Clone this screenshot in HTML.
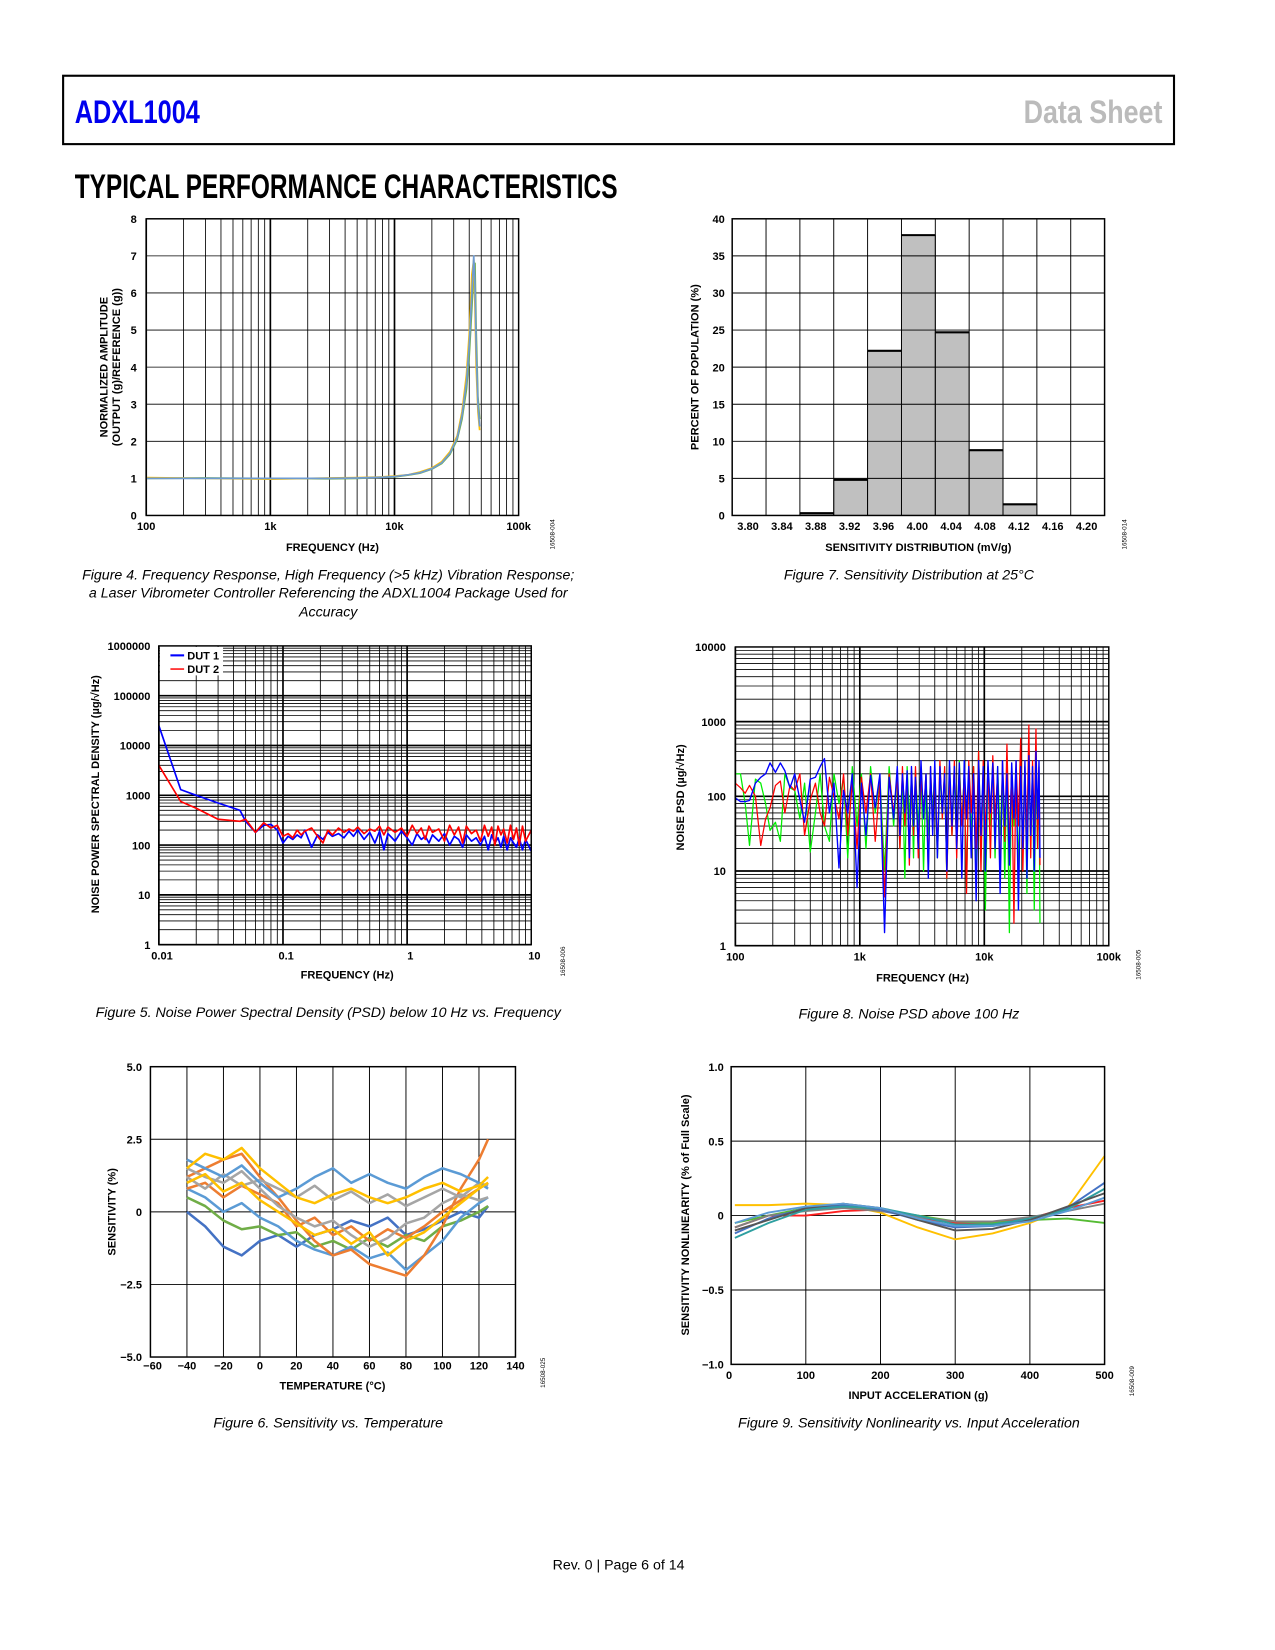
<!DOCTYPE html>
<html><head><meta charset="utf-8">
<style>
html,body{margin:0;padding:0;background:#fff;}
svg{display:block;}
.t{font-family:"Liberation Sans",Arial,sans-serif;font-weight:bold;font-size:10.5px;fill:#000;}
.cap{font-family:"Liberation Sans",Arial,sans-serif;font-style:italic;font-size:13.5px;fill:#000;}
.fid{font-family:"Liberation Sans",Arial,sans-serif;font-size:6px;fill:#000;}
</style></head>
<body>
<svg id="page" xmlns="http://www.w3.org/2000/svg" width="1275" height="1650" viewBox="0 0 1212 1568.5" preserveAspectRatio="none">
<rect x="60" y="72" width="1056" height="65" fill="none" stroke="#000" stroke-width="2"/>
<text x="71" y="117" textLength="119" lengthAdjust="spacingAndGlyphs" style="font-family:'Liberation Sans',sans-serif;font-weight:bold;font-size:31px;fill:#0000ee">ADXL1004</text>
<text x="973" y="117" textLength="132" lengthAdjust="spacingAndGlyphs" style="font-family:'Liberation Sans',sans-serif;font-weight:bold;font-size:31px;fill:#bbbbbb">Data Sheet</text>
<text x="71" y="188" textLength="516" lengthAdjust="spacingAndGlyphs" style="font-family:'Liberation Sans',sans-serif;font-weight:bold;font-size:33px;fill:#000">TYPICAL PERFORMANCE CHARACTERISTICS</text>

<text class="cap" x="312" y="551" text-anchor="middle">Figure 4. Frequency Response, High Frequency (&gt;5 kHz) Vibration Response;</text>
<text class="cap" x="312" y="568" text-anchor="middle">a Laser Vibrometer Controller Referencing the ADXL1004 Package Used for</text>
<text class="cap" x="312" y="586" text-anchor="middle">Accuracy</text>
<text class="cap" x="864" y="551" text-anchor="middle">Figure 7. Sensitivity Distribution at 25°C</text>
<text class="cap" x="312" y="967" text-anchor="middle">Figure 5. Noise Power Spectral Density (PSD) below 10 Hz vs. Frequency</text>
<text class="cap" x="864" y="968" text-anchor="middle">Figure 8. Noise PSD above 100 Hz</text>
<text class="cap" x="312" y="1357" text-anchor="middle">Figure 6. Sensitivity vs. Temperature</text>
<text class="cap" x="864" y="1357" text-anchor="middle">Figure 9. Sensitivity Nonlinearity vs. Input Acceleration</text>
<text x="588" y="1492" text-anchor="middle" style="font-family:'Liberation Sans',sans-serif;font-size:13.5px;fill:#000">Rev. 0 | Page 6 of 14</text>

<!-- axis titles -->
<text class="t" x="316" y="524" text-anchor="middle">FREQUENCY (Hz)</text>
<text class="t" transform="translate(102,349) rotate(-90)" text-anchor="middle">NORMALIZED AMPLITUDE</text>
<text class="t" transform="translate(114,349) rotate(-90)" text-anchor="middle">(OUTPUT (g)/REFERENCE (g))</text>
<text class="t" x="873" y="524" text-anchor="middle">SENSITIVITY DISTRIBUTION (mV/g)</text>
<text class="t" transform="translate(664,349) rotate(-90)" text-anchor="middle">PERCENT OF POPULATION (%)</text>
<text class="t" x="330" y="930" text-anchor="middle">FREQUENCY (Hz)</text>
<text class="t" transform="translate(94,755) rotate(-90)" text-anchor="middle">NOISE POWER SPECTRAL DENSITY (µg/√Hz)</text>
<text class="t" x="877" y="933" text-anchor="middle">FREQUENCY (Hz)</text>
<text class="t" transform="translate(650,758) rotate(-90)" text-anchor="middle">NOISE PSD (µg/√Hz)</text>
<text class="t" x="316" y="1321" text-anchor="middle">TEMPERATURE (°C)</text>
<text class="t" transform="translate(110,1152) rotate(-90)" text-anchor="middle">SENSITIVITY (%)</text>
<text class="t" x="873" y="1330" text-anchor="middle">INPUT ACCELERATION (g)</text>
<text class="t" transform="translate(655,1155) rotate(-90)" text-anchor="middle">SENSITIVITY NONLINEARITY (% of Full Scale)</text>

<text class="fid" transform="translate(527,508) rotate(-90)" text-anchor="middle">16508-004</text>
<text class="fid" transform="translate(1071,508) rotate(-90)" text-anchor="middle">16508-014</text>
<text class="fid" transform="translate(537,914) rotate(-90)" text-anchor="middle">16508-006</text>
<text class="fid" transform="translate(1084,917) rotate(-90)" text-anchor="middle">16508-005</text>
<text class="fid" transform="translate(518,1305) rotate(-90)" text-anchor="middle">16508-025</text>
<text class="fid" transform="translate(1078,1313) rotate(-90)" text-anchor="middle">16508-009</text>
</svg>
<script>
// ---------- Figure 4 data ----------
const f4Freq = [100,300,1000,3000,5000,8000,10000,13000,16000,20000,24000,28000,32000,35000,38000,40000,42000,43500,44500,45500,47000,48500];
const f4DutA = [1.0,1.0,1.0,1.0,1.01,1.03,1.05,1.1,1.15,1.26,1.42,1.68,2.1,2.7,3.6,4.6,6.0,7.0,6.2,4.5,3.0,2.4];
const f4DutB = [1.02,1.0,0.98,1.01,1.02,1.04,1.06,1.1,1.17,1.28,1.45,1.72,2.15,2.8,3.8,4.9,6.5,6.9,5.6,4.0,2.8,2.3];
const f4DutC = [1.0,1.01,1.0,0.99,1.0,1.03,1.04,1.09,1.14,1.25,1.4,1.65,2.05,2.6,3.4,4.3,5.6,6.6,6.8,5.0,3.2,2.6];
const f4XTicks = ['100','1k','10k','100k'];
const f4YTicks = [0,1,2,3,4,5,6,7,8];
// ---------- Figure 7 data ----------
const f7Cats = ['3.80','3.84','3.88','3.92','3.96','4.00','4.04','4.08','4.12','4.16','4.20'];
const f7Pct = [0,0,0.3,4.8,22.2,37.8,24.7,8.8,1.5,0,0];
const f7YTicks = [0,5,10,15,20,25,30,35,40];
// ---------- Figure 5 data ----------
const f5Freq = [0.01,0.015,0.02,0.03,0.045,0.05,0.06,0.07,0.08,0.09,0.1,0.11,0.12,0.13,0.14,0.15,0.17,0.19,0.21,0.23,0.25,0.28,0.31,0.34,0.37,0.4,0.45,0.5,0.55,0.6,0.65,0.7,0.8,0.9,1.0,1.1,1.2,1.3,1.4,1.5,1.6,1.8,2.0,2.2,2.4,2.6,2.8,3.0,3.3,3.6,3.9,4.2,4.5,4.8,5.1,5.4,5.7,6.0,6.4,6.8,7.2,7.6,8.0,8.5,9.0,10];
const f5Dut1 = [25000,1300,1000,700,500,300,180,250,260,200,110,150,130,160,140,200,90,160,130,180,150,170,140,190,150,200,130,180,110,190,80,170,120,190,140,100,170,130,150,110,160,120,170,100,150,130,90,160,120,140,100,150,80,160,110,140,90,150,80,140,110,90,140,80,130,75];
const f5Dut2 = [4000,750,550,330,300,330,180,280,220,250,150,170,140,200,160,190,220,150,110,200,160,220,180,210,190,230,170,210,190,240,160,230,180,220,150,250,170,220,130,240,180,210,120,250,160,230,110,240,170,200,120,250,150,230,100,240,160,210,110,250,130,220,100,240,120,200];
const f5XTicks = ['0.01','0.1','1','10'];
const f5YTicks = ['1','10','100','1000','10000','100000','1000000'];
// ---------- Figure 8 data ----------
const f8Freq = [100,110,120,130,145,160,175,190,210,230,250,275,300,330,360,400,440,480,520,570,620,680,740,800,870,950,1030,1120,1220,1330,1450,1580,1720,1870,2000,2100,2200,2300,2400,2500,2600,2700,2800,2950,3100,3250,3400,3550,3700,3850,4000,4200,4400,4600,4800,5000,5250,5500,5750,6000,6300,6600,6900,7200,7500,7850,8200,8600,9000,9400,9800,10200,10700,11200,11700,12200,12800,13400,14000,14600,15200,15900,16600,17300,18000,18800,19600,20400,21200,22000,22800,23600,24400,25200,26000,26800,27500,28000];
const f8Blue = [95,85,85,88,150,180,200,280,210,280,220,130,200,90,45,170,180,250,320,60,150,11,120,60,200,6,150,30,190,70,200,1.5,180,50,250,30,200,60,220,15,250,40,180,20,300,50,200,8,250,30,300,15,250,60,200,10,300,40,250,20,280,8,300,50,250,15,200,4,300,30,250,10,300,60,280,20,250,5,300,40,200,12,280,50,300,3,250,20,300,8,350,30,250,10,400,50,300,15];
const f8Red = [150,130,110,140,100,22,50,70,140,160,60,140,120,200,30,90,150,60,40,180,100,50,200,30,150,20,180,60,200,25,150,4.5,200,60,180,20,250,40,200,12,220,30,250,15,180,60,200,10,250,40,180,20,300,50,250,8,200,30,300,15,250,40,200,5,300,60,250,20,400,10,300,30,250,15,350,50,200,8,300,25,500,20,250,2,300,40,600,10,250,30,900,15,300,40,800,20,250,12];
const f8Green = [200,200,80,22,170,150,80,35,45,25,200,130,120,50,150,18,60,200,40,25,200,80,180,15,250,40,200,20,250,60,180,10,250,40,200,20,200,8,250,50,180,15,220,40,250,10,200,30,180,60,250,15,200,50,220,8,250,30,200,20,300,40,200,6,250,30,250,10,400,20,200,3,250,40,300,15,250,30,200,8,300,1.5,250,40,200,10,300,20,250,5,300,30,200,3,250,20,200,2];
const f8XTicks = ['100','1k','10k','100k'];
const f8YTicks = ['1','10','100','1000','10000'];
// ---------- Figure 6 data ----------
const f6Temp = [-40,-30,-20,-10,0,10,20,30,40,50,60,70,80,90,100,110,120,125];
const f6S1 = [0,-0.5,-1.2,-1.5,-1.0,-0.8,-1.2,-0.8,-0.6,-0.3,-0.5,-0.2,-0.8,-0.6,-0.3,0,-0.2,0.2];
const f6S2 = [1.2,1.5,1.8,2.0,1.2,0.5,-0.3,-1.0,-1.5,-1.3,-1.8,-2.0,-2.2,-1.5,-0.5,0.8,1.8,2.5];
const f6S3 = [0.8,1.0,0.5,0.9,0.6,0.3,-0.5,-0.2,-0.8,-0.5,-1.0,-0.6,-0.9,-0.5,0.0,0.4,0.8,1.0];
const f6S4 = [1.5,1.2,1.0,1.4,0.8,0.2,-0.2,-0.5,-0.3,-0.8,-1.2,-0.9,-0.4,-0.2,0.3,0.6,0.4,0.5];
const f6S5 = [1.5,2.0,1.8,2.2,1.5,1.0,0.5,0.3,0.6,0.8,0.5,0.3,0.5,0.8,1.0,0.7,0.9,1.2];
const f6S6 = [1.8,1.5,1.2,1.6,1.0,0.5,0.8,1.2,1.5,1.0,1.3,1.0,0.8,1.2,1.5,1.3,1.0,0.8];
const f6S7 = [0.5,0.2,-0.3,-0.6,-0.5,-0.8,-0.7,-1.2,-1.0,-1.3,-0.9,-1.2,-0.8,-1.0,-0.5,-0.3,0,0.2];
const f6S8 = [1.0,1.3,0.7,1.0,0.4,0.0,-0.4,-0.8,-0.6,-1.1,-0.7,-1.5,-1.0,-0.7,-0.2,0.3,0.8,1.0];
const f6S9 = [0.8,0.5,0.0,0.3,-0.2,-0.5,-1.0,-1.3,-1.5,-1.2,-1.6,-1.4,-2.0,-1.5,-1.0,-0.2,0.3,0.5];
const f6S10 = [1.2,0.8,1.3,0.9,1.1,0.8,0.5,0.9,0.4,0.7,0.3,0.6,0.2,0.5,0.8,0.5,1.0,0.9];
const f6XTicks = [-60,-40,-20,0,20,40,60,80,100,120,140];
const f6YTicks = ['−5.0','−2.5','0','2.5','5.0'];
// ---------- Figure 9 data ----------
const f9Accel = [5,50,100,150,200,250,300,350,400,450,500];
const f9A = [0.07,0.07,0.08,0.07,0.02,-0.08,-0.16,-0.12,-0.05,0.05,0.40];
const f9B = [-0.12,-0.02,0.05,0.07,0.04,-0.03,-0.08,-0.07,-0.03,0.05,0.22];
const f9C = [-0.05,0.0,0.05,0.06,0.04,0.0,-0.04,-0.05,-0.03,-0.02,-0.05];
const f9D = [-0.08,0.0,0.0,0.03,0.04,-0.02,-0.05,-0.05,-0.02,0.05,0.10];
const f9E = [-0.10,-0.03,0.05,0.08,0.05,-0.03,-0.10,-0.09,-0.03,0.06,0.15];
const f9F = [-0.15,-0.05,0.04,0.06,0.05,0.0,-0.06,-0.06,-0.02,0.04,0.18];
const f9G = [-0.05,0.02,0.06,0.08,0.05,-0.02,-0.07,-0.07,-0.04,0.03,0.12];
const f9H = [-0.08,0.0,0.03,0.05,0.03,-0.01,-0.04,-0.04,-0.01,0.03,0.08];
const f9XTicks = [0,100,200,300,400,500];
const f9YTicks = ['−1.0','−0.5','0','0.5','1.0'];

const NS = 'http://www.w3.org/2000/svg';
const svg = document.getElementById('page');
function mk(tag, attrs, parent) {
  const e = document.createElementNS(NS, tag);
  for (const k in attrs) e.setAttribute(k, attrs[k]);
  (parent || svg).appendChild(e);
  return e;
}
function line(x1,y1,x2,y2,w,g){ const l = mk('line',{x1:x1,y1:y1,x2:x2,y2:y2,stroke:'#000','stroke-width':w},g);
  
  
  return l; }
function label(x,y,txt,anchor,g){ const t = mk('text',{x:x,y:y,class:'t','text-anchor':anchor||'middle'},g); t.textContent = txt;
  
  
  return t; }
function pathD(xs, ys, sx, sy){ let d=''; const n=Math.min(xs.length, ys.length); for(let i=0;i<n;i++){ d += (i?'L':'M') + sx(xs[i]).toFixed(2) + ',' + sy(ys[i]).toFixed(2); } return d; }
function series(g, xs, ys, sx, sy, color, w, name){ const p = mk('path',{d:pathD(xs,ys,sx,sy),fill:'none',stroke:color,'stroke-width':w,'stroke-linejoin':'round'},g);
  
  
  return p; }
function logGridX(g, x0, x1, y0, y1, dec){ const pd=(x1-x0)/dec; for(let d=0; d<dec; d++){ for(let m=1;m<10;m++){ const x = x0 + pd*(d+Math.log10(m)); line(x,y0,x,y1, m===1?1.6:0.8, g);} } }
function logGridY(g, x0, x1, y0, y1, dec){ const pd=(y1-y0)/dec; for(let d=0; d<dec; d++){ for(let m=1;m<10;m++){ const y = y1 - pd*(d+Math.log10(m)); line(x0,y,x1,y, m===1?1.6:0.8, g);} } }
function frame(g,x0,y0,x1,y1){ const r = mk('rect',{x:x0,y:y0,width:x1-x0,height:y1-y0,fill:'none',stroke:'#000','stroke-width':1.4},g);
  
   }

// ===== Figure 4 =====
(function(){
  const g = mk('g',{});
  
  
  const X0=139,X1=493,Y0=208,Y1=490;
  const sx = v => X0 + (X1-X0)/3*Math.log10(v/100);
  const sy = v => Y1 - (Y1-Y0)/8*v;
  logGridX(g,X0,X1,Y0,Y1,3);
  f4YTicks.forEach(v=>{ line(X0,sy(v),X1,sy(v),0.8,g); label(X0-9,sy(v)+4,String(v),'end',g); });
  f4XTicks.forEach((t,i)=>label(X0+i*(X1-X0)/3,504,t,'middle',g));
  series(g,f4Freq,f4DutC,sx,sy,'#70ad47',1.6,'fig4-series-dut-c');
  series(g,f4Freq,f4DutB,sx,sy,'#ffc000',1.6,'fig4-series-dut-b');
  series(g,f4Freq,f4DutA,sx,sy,'#6e9bd2',1.6,'fig4-series-dut-a');
  frame(g,X0,Y0,X1,Y1);
})();

// ===== Figure 7 =====
(function(){
  const g = mk('g',{});
  
  
  const X0=696,X1=1050,Y0=208,Y1=490;
  const bw=(X1-X0)/f7Cats.length;
  const sy = v => Y1 - (Y1-Y0)/40*v;
  f7Pct.forEach((v,i)=>{ if(v<=0) return; const x=X0+i*bw;
    const b = mk('rect',{x:x,y:sy(v),width:bw,height:Y1-sy(v),fill:'#c0c0c0',stroke:'#000','stroke-width':0.8},g);
    
    
    line(x,sy(v),x+bw,sy(v),2,g); });
  f7YTicks.forEach(v=>{ line(X0,sy(v),X1,sy(v),0.9,g); label(X0-7,sy(v)+4,String(v),'end',g); });
  f7Cats.forEach((c,i)=>{ line(X0+i*bw,Y0,X0+i*bw,Y1,0.9,g); label(X0+(i+0.5)*bw-1,504,c,'middle',g); });
  frame(g,X0,Y0,X1,Y1);
})();

// ===== Figure 5 =====
(function(){
  const g = mk('g',{});
  
  
  const X0=151,X1=505,Y0=614,Y1=898;
  const sx = v => X0 + (X1-X0)/3*Math.log10(v/0.01);
  const sy = v => Y1 - (Y1-Y0)/6*Math.log10(v);
  logGridX(g,X0,X1,Y0,Y1,3);
  logGridY(g,X0,X1,Y0,Y1,6);
  f5YTicks.forEach((t,i)=>label(X0-8,Y1-i*(Y1-Y0)/6+4,t,'end',g));
  f5XTicks.forEach((t,i)=>label(X0+i*(X1-X0)/3+3,912,t,'middle',g));
  series(g,f5Freq,f5Dut1,sx,sy,'#0000ff',1.6,'fig5-series-dut1');
  series(g,f5Freq,f5Dut2,sx,sy,'#ff0000',1.6,'fig5-series-dut2');
  const lg = mk('g',{},g);
  
  
  mk('rect',{x:152,y:615,width:60,height:27,fill:'#fff'},lg);
  mk('line',{x1:162,y1:623,x2:175,y2:623,stroke:'#0000ff','stroke-width':2},lg);
  mk('line',{x1:162,y1:636,x2:175,y2:636,stroke:'#ff0000','stroke-width':1.4},lg);
  const l1 = label(178,627,'DUT 1','start',lg);
  
  const l2 = label(178,640,'DUT 2','start',lg);
  
  frame(g,X0,Y0,X1,Y1);
})();

// ===== Figure 8 =====
(function(){
  const g = mk('g',{});
  
  
  const X0=699,X1=1054,Y0=615,Y1=899;
  const sx = v => X0 + (X1-X0)/3*Math.log10(v/100);
  const sy = v => Y1 - (Y1-Y0)/4*Math.log10(v);
  logGridX(g,X0,X1,Y0,Y1,3);
  logGridY(g,X0,X1,Y0,Y1,4);
  f8YTicks.forEach((t,i)=>label(X0-9,Y1-i*(Y1-Y0)/4+4,t,'end',g));
  f8XTicks.forEach((t,i)=>label(X0+i*(X1-X0)/3,913,t,'middle',g));
  series(g,f8Freq,f8Green,sx,sy,'#00ee00',1.2,'fig8-series-green');
  series(g,f8Freq,f8Red,sx,sy,'#ff0000',1.2,'fig8-series-red');
  series(g,f8Freq,f8Blue,sx,sy,'#0000ff',1.3,'fig8-series-blue');
  frame(g,X0,Y0,X1,Y1);
})();

// ===== Figure 6 =====
(function(){
  const g = mk('g',{});
  
  
  const X0=143,X1=490,Y0=1014,Y1=1290;
  const sx = v => X0 + (X1-X0)*(v+60)/200;
  const sy = v => Y1 - (Y1-Y0)*(v+5)/10;
  f6XTicks.forEach(v=>{ line(sx(v),Y0,sx(v),Y1,0.9,g); label(sx(v)+(v===-60?2:0),1302,v<0?'−'+Math.abs(v):String(v),'middle',g); });
  f6YTicks.forEach((t,i)=>{ const y=Y1-i*(Y1-Y0)/4; line(X0,y,X1,y,0.9,g); label(X0-8,y+4,t,'end',g); });
  const sets=[[f6S1,'#4472c4'],[f6S7,'#70ad47'],[f6S9,'#5b9bd5'],[f6S2,'#ed7d31'],[f6S3,'#ed7d31'],[f6S4,'#a5a5a5'],[f6S10,'#a5a5a5'],[f6S6,'#5b9bd5'],[f6S8,'#ffc000'],[f6S5,'#ffc000']];
  sets.forEach((s,i)=>series(g,f6Temp,s[0],sx,sy,s[1],2.4,'fig6-series-'+(i+1)));
  frame(g,X0,Y0,X1,Y1);
})();

// ===== Figure 9 =====
(function(){
  const g = mk('g',{});
  
  
  const X0=695,X1=1050,Y0=1014,Y1=1297;
  const sx = v => X0 + (X1-X0)*v/500;
  const sy = v => Y1 - (Y1-Y0)*(v+1)/2;
  f9XTicks.forEach(v=>{ line(sx(v),Y0,sx(v),Y1,0.9,g); label(sx(v)-(v===0?2:0),1311,String(v),'middle',g); });
  f9YTicks.forEach((t,i)=>{ const y=Y1-i*(Y1-Y0)/4; line(X0,y,X1,y,0.9,g); label(X0-7,y+4,t,'end',g); });
  const sets=[[f9A,'#ffc000'],[f9D,'#ff2020'],[f9C,'#55bb33'],[f9H,'#808080'],[f9B,'#4472c4'],[f9F,'#2e9fa0'],[f9E,'#555555'],[f9G,'#5b9bd5']];
  sets.forEach((s,i)=>series(g,f9Accel,s[0],sx,sy,s[1],1.8,'fig9-series-'+(i+1)));
  frame(g,X0,Y0,X1,Y1);
})();
</script>
</body></html>
